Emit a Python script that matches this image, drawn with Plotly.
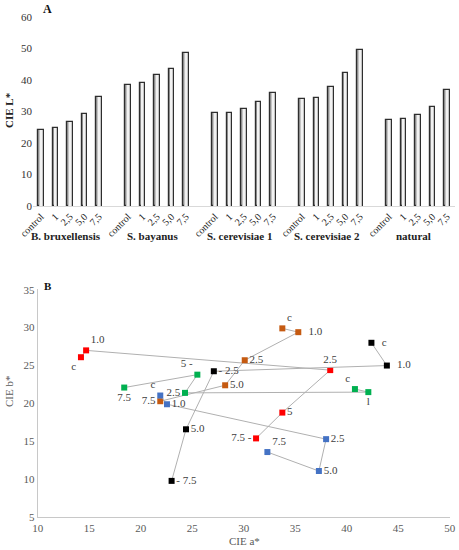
import plotly.graph_objects as go

# panel A: CIE L* per strain and dose
strains = ['B. bruxellensis', 'S. bayanus', 'S. cerevisiae 1', 'S. cerevisiae 2', 'natural']
doses = ['control', '1', '2,5', '5,0', '7,5']
L_bru = [24.3, 24.8, 26.6, 29.3, 34.7]
L_bay = [38.4, 39.0, 41.5, 43.6, 48.6]
L_cer1 = [29.6, 29.6, 30.8, 32.9, 35.8]
L_cer2 = [34.1, 34.3, 37.9, 42.4, 49.5]
L_nat = [27.3, 27.5, 29.0, 31.6, 36.9]

# panel B: CIE a* / b* trajectories (c, 1.0, 2.5, 5.0, 7.5)
red_a = [14.2, 14.7, 38.4, 33.75, 31.2]
red_b = [26.1, 27.0, 24.4, 18.8, 15.4]
red_lbl = ['c', '1.0', '2.5', '5', '7.5 -']
orange_a = [33.75, 35.3, 30.1, 28.2, 21.9]
orange_b = [29.9, 29.4, 25.7, 22.4, 20.3]
orange_lbl = ['c', '  1.0', '2.5', '5.0', '7.5']
black_a = [42.4, 43.9, 27.1, 24.4, 23.0]
black_b = [28.0, 25.0, 24.25, 16.6, 9.8]
black_lbl = ['  c', '  1.0', '- 2.5', '5.0', '- 7.5']
green_a = [40.8, 42.1, 24.3, 25.5, 18.4]
green_b = [21.9, 21.5, 21.4, 23.8, 22.1]
green_lbl = ['c', 'l', '2.5', '5 -', '7.5']
blue_a = [21.9, 22.55, 38.0, 37.3, 32.3]
blue_b = [21.05, 19.9, 15.3, 11.1, 13.6]
blue_lbl = ['c', '1.0', '2.5', '5.0', '7.5']

serif = 'Liberation Serif, Times New Roman, serif'
W, H = 459, 550

fig = go.Figure()

L_all = [L_bru, L_bay, L_cer1, L_cer2, L_nat]
xpos, ypos, tick_txt = [], [], []
for g, vals in enumerate(L_all):
    for i, v in enumerate(vals):
        xpos.append(g * 6 + i)
        ypos.append(v)
        tick_txt.append(doses[i])

# layered bars to fake the grey gradient fill
fig.add_trace(go.Bar(
    x=xpos, y=ypos, width=0.36,
    marker=dict(color='#8c8c8c', line=dict(color='#2e2e2e', width=1.2)),
    xaxis='x', yaxis='y', showlegend=False))
fig.add_trace(go.Bar(
    x=xpos, y=ypos, width=0.22,
    marker=dict(color='#c4c4c4', line=dict(width=0)),
    xaxis='x', yaxis='y', showlegend=False, hoverinfo='skip'))
fig.add_trace(go.Bar(
    x=xpos, y=ypos, width=0.1,
    marker=dict(color='#f2f2f2', line=dict(width=0)),
    xaxis='x', yaxis='y', showlegend=False, hoverinfo='skip'))

series = [
    (red_a, red_b, red_lbl, '#ff0000',
     ['bottom left', 'top right', 'top center', 'middle right', 'middle left']),
    (orange_a, orange_b, orange_lbl, '#c55a11',
     ['top right', 'middle right', 'middle right', 'middle right', 'middle left']),
    (black_a, black_b, black_lbl, '#000000',
     ['middle right', 'middle right', 'middle right', 'middle right', 'middle right']),
    (green_a, green_b, green_lbl, '#00b050',
     ['top left', 'bottom center', 'middle left', 'top left', 'bottom center']),
    (blue_a, blue_b, blue_lbl, '#4472c4',
     ['top left', 'middle right', 'middle right', 'middle right', 'top right']),
]
for a, b, lbl, col, pos in series:
    fig.add_trace(go.Scatter(
        x=a, y=b, mode='lines+markers+text', text=lbl, textposition=pos,
        textfont=dict(family=serif, size=11, color='#404040'),
        line=dict(color='#b0b0b0', width=1),
        marker=dict(symbol='square', size=6, color=col),
        xaxis='x2', yaxis='y2', showlegend=False, cliponaxis=False))

def px_x(p):
    return p / W

def px_y(p):
    return 1 - p / H

def note(x, y, text, size=11, color='#222222', angle=0, xref='paper'):
    return dict(x=x, y=y, xref=xref, yref='paper', text=text, textangle=angle,
                xanchor='center', yanchor='middle', showarrow=False,
                font=dict(family=serif, size=size, color=color))

ann = []
for g, name in enumerate(strains):
    ann.append(note(g * 6 + 1.7, px_y(236), '<b>%s</b>' % name, xref='x'))
ann.append(note(px_x(47), px_y(9), '<b>A</b>', size=12, color='#111111'))
ann.append(note(px_x(48), px_y(286), '<b>B</b>', color='#111111'))
ann.append(note(px_x(9), px_y(110), '<b>CIE L*</b>', angle=-90))
ann.append(note(px_x(9), px_y(392), 'CIE b*', color='#595959', angle=-90))
ann.append(note(px_x(245), px_y(541), 'CIE a*', color='#595959'))

fig.update_layout(
    width=W, height=H,
    margin=dict(l=0, r=0, t=0, b=0),
    paper_bgcolor='white', plot_bgcolor='white',
    font=dict(family=serif, size=11, color='#333333'),
    barmode='overlay', bargap=0,
    xaxis=dict(domain=[px_x(33), px_x(455)], range=[-0.55, 28.55], automargin=False,
               tickmode='array', tickvals=xpos, ticktext=tick_txt, tickangle=-45,
               showline=True, linecolor='#d9d9d9', showgrid=False, zeroline=False,
               ticks='', tickfont=dict(family=serif, size=10, color='#222222'),
               anchor='y'),
    yaxis=dict(domain=[px_y(206), px_y(17)], range=[0, 60.05], dtick=10, automargin=False,
               showline=False, showgrid=False, zeroline=False, ticks='',
               tickfont=dict(family=serif, size=11, color='#333333'),
               anchor='x'),
    xaxis2=dict(domain=[px_x(37.7), px_x(449.7)], range=[10, 50], dtick=5, automargin=False,
                showline=True, linecolor='#c8c8c8', showgrid=False, zeroline=False, ticks='',
                tickfont=dict(family=serif, size=11, color='#595959'),
                anchor='y2'),
    yaxis2=dict(domain=[px_y(517.3), px_y(289.3)], range=[5, 35.05], dtick=5, automargin=False,
                showline=True, linecolor='#c8c8c8', showgrid=False, zeroline=False, ticks='',
                tickfont=dict(family=serif, size=11, color='#595959'),
                anchor='x2'),
    annotations=ann,
)

# the page's default body margin would push the figure 8px off the window
fig.write_html('out.html', config={'displayModeBar': False},
               post_script="document.body.style.margin='0px';")
